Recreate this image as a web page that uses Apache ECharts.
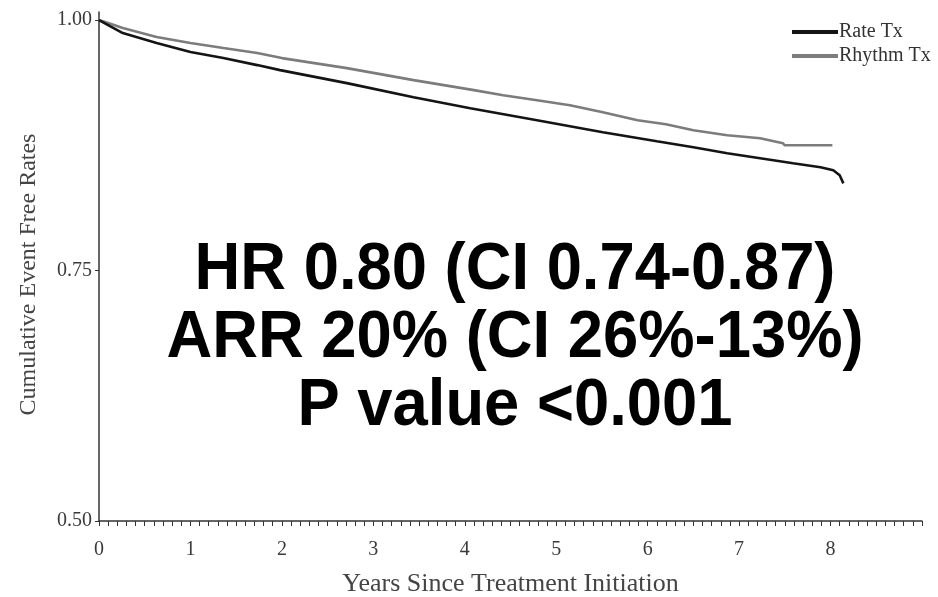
<!DOCTYPE html>
<html>
<head>
<meta charset="utf-8">
<script src="https://cdn.jsdelivr.net/npm/echarts@6/dist/echarts.min.js"></script>
<style>
  html, body { margin: 0; padding: 0; background: #fff; }
  #chart { width: 938px; height: 597px; }
</style>
</head>
<body>
<div id="chart"></div>
<script>
// Kaplan-Meier style event-free curves by treatment strategy
const rateYears = [0, 0.1, 0.26, 0.63, 1.0, 1.36, 1.73, 1.98, 2.71, 3.44, 4.06, 4.79, 5.51, 6.1, 6.5, 6.87, 7.23, 7.59, 7.89, 8.03, 8.1, 8.14];
const rateValues = [1.0, 0.995, 0.987, 0.977, 0.968, 0.962, 0.955, 0.950, 0.937, 0.923, 0.912, 0.900, 0.888, 0.879, 0.873, 0.867, 0.862, 0.857, 0.853, 0.850, 0.845, 0.837];

const rhythmYears = [0, 0.1, 0.26, 0.63, 1.0, 1.36, 1.73, 2.0, 2.71, 3.44, 4.1, 4.42, 4.79, 5.15, 5.51, 5.89, 6.2, 6.5, 6.87, 7.23, 7.48, 7.5, 8.02];
const rhythmValues = [1.0, 0.997, 0.992, 0.983, 0.977, 0.972, 0.967, 0.962, 0.952, 0.940, 0.930, 0.925, 0.920, 0.915, 0.908, 0.900, 0.896, 0.890, 0.885, 0.882, 0.877, 0.875, 0.875];

const seriesNames = ['Rate Tx', 'Rhythm Tx'];
const xTickLabels = [0, 1, 2, 3, 4, 5, 6, 7, 8];
const yTickValues = [0.5, 0.75, 1.0];
const statLines = ['HR 0.80 (CI 0.74-0.87)', 'ARR 20% (CI 26%-13%)', 'P value <0.001'];

const pairs = (xs, ys) => xs.map((x, i) => [x, ys[i]]);

const serif = '"Liberation Serif", "Times New Roman", serif';
const axisText = '#3a3a3a';

const chart = echarts.init(document.getElementById('chart'), null, { renderer: 'canvas' });

chart.setOption({
  animation: false,
  backgroundColor: '#ffffff',
  grid: { left: 99, right: 16, top: 12, bottom: 76, containLabel: false, outerBoundsMode: 'none' },
  legend: {
    orient: 'vertical',
    left: 792,
    top: 22,
    itemWidth: 46,
    itemHeight: 4,
    itemGap: 4,
    icon: 'rect',
    padding: 0,
    data: seriesNames,
    textStyle: { fontFamily: serif, fontSize: 20, color: '#333', padding: [0, 0, 0, -4] }
  },
  xAxis: {
    type: 'value',
    min: 0,
    max: 9,
    interval: 1,
    axisLine: { show: true, onZero: false, lineStyle: { color: '#333', width: 1.5 } },
    axisTick: { show: true, length: 5, lineStyle: { color: '#333' } },
    minorTick: { show: true, splitNumber: 10, length: 5, lineStyle: { color: '#333' } },
    splitLine: { show: false },
    axisLabel: {
      margin: 19,
      fontFamily: serif,
      fontSize: 20,
      color: axisText,
      formatter: v => (xTickLabels.indexOf(v) >= 0 ? String(v) : '')
    },
    name: 'Years Since Treatment Initiation',
    nameLocation: 'middle',
    nameGap: 50,
    nameTextStyle: { fontFamily: serif, fontSize: 26, color: '#444' }
  },
  yAxis: {
    type: 'value',
    min: 0.5,
    max: 1.008,
    interval: 0.25,
    axisLine: { show: true, onZero: false, lineStyle: { color: '#333', width: 1.5 } },
    axisTick: { show: true, length: 4, customValues: yTickValues, lineStyle: { color: '#333' } },
    splitLine: { show: false },
    axisLabel: {
      margin: 7,
      fontFamily: serif,
      fontSize: 20,
      color: axisText,
      customValues: yTickValues,
      formatter: v => v.toFixed(2)
    },
    name: 'Cumulative Event Free Rates',
    nameLocation: 'middle',
    nameGap: 58,
    nameTextStyle: { fontFamily: serif, fontSize: 24, color: '#444', padding: [0, 16, 0, 0] }
  },
  series: [
    {
      name: seriesNames[0],
      type: 'line',
      data: pairs(rateYears, rateValues),
      showSymbol: false,
      smooth: false,
      color: '#141414',
      lineStyle: { color: '#141414', width: 2.6 },
      z: 3
    },
    {
      name: seriesNames[1],
      type: 'line',
      data: pairs(rhythmYears, rhythmValues),
      showSymbol: false,
      smooth: false,
      color: '#7c7c7c',
      lineStyle: { color: '#7c7c7c', width: 2.6 },
      z: 2
    }
  ],
  // summary statistics drawn over the plot area
  graphic: statLines.map((t, i) => ({
    type: 'text',
    x: 515,
    y: 271 + i * 68,
    scaleX: 0.96,
    z: 10,
    style: {
      text: t,
      x: 0,
      y: 0,
      align: 'center',
      verticalAlign: 'middle',
      font: 'bold 66px "Liberation Sans", Arial, sans-serif',
      fill: '#000',
      shadowColor: 'rgba(0,0,0,0.35)',
      shadowBlur: 3,
      shadowOffsetX: 2,
      shadowOffsetY: 2
    }
  }))
});
</script>
</body>
</html>
